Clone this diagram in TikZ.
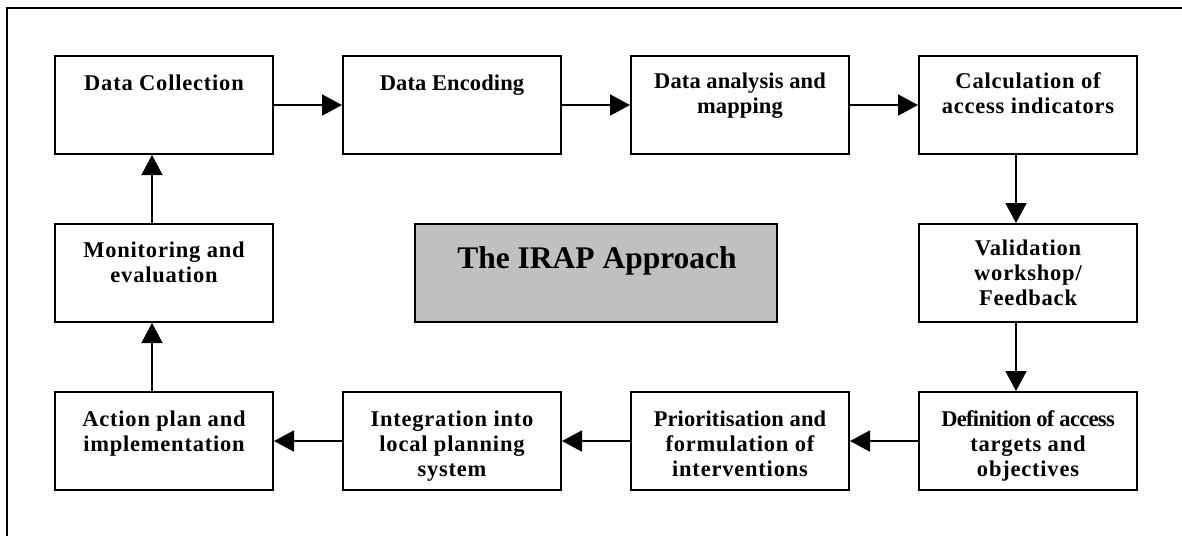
\documentclass[tikz,border=0pt]{standalone}
\usepackage{fontspec}
\setmainfont{Liberation Serif}
\newfontfamily\wsp[LetterSpace=3.5]{Liberation Serif}
\newfontfamily\msp[LetterSpace=0.5]{Liberation Serif}
\newfontfamily\tsp[LetterSpace=-3.0]{Liberation Serif}
\newfontfamily\nsp{Liberation Serif}
\usetikzlibrary{arrows.meta}
\definecolor{irapgray}{RGB}{192,192,192}
\tikzset{
  stepbox/.style={draw=black, line width=2pt, minimum width=218pt, minimum height=98pt, inner sep=0pt},
  titlebox/.style={draw=black, line width=2pt, fill=irapgray, minimum width=362pt, minimum height=98pt, inner sep=0pt},
  boxtext/.style={anchor=north, inner sep=0pt, align=center, font=\fontsize{22.5}{25}\selectfont\bfseries\wsp, execute at begin node=\strut},
  titletext/.style={anchor=base, inner sep=0pt, font=\fontsize{31.5}{36}\selectfont\bfseries\nsp},
  arr/.style={line width=1.8pt, -{Triangle[length=20pt, width=21pt]}},
  frame/.style={line width=2pt}
}
\begin{document}
\begin{tikzpicture}[x=1pt, y=-1pt]
\useasboundingbox (0,0) rectangle (1182,536);
\draw[frame] (7,536) -- (7,8) -- (1182,8);

% boxes
\node[stepbox] (dc)  at (164,105) {};
\node[stepbox] (de)  at (452,105) {};
\node[stepbox] (da)  at (740,105) {};
\node[stepbox] (ca)  at (1028,105) {};
\node[stepbox] (mon) at (164,273) {};
\node[titlebox] (irap) at (596,273) {};
\node[stepbox] (val) at (1028,273) {};
\node[stepbox] (act) at (164,441) {};
\node[stepbox] (int) at (452,441) {};
\node[stepbox] (pri) at (740,441) {};
\node[stepbox] (def) at (1028,441) {};

% texts
\node[boxtext] (dct) at (164,73) {Data Collection};
\node[boxtext, font=\fontsize{22.5}{25}\selectfont\bfseries\msp] (det) at (452,73) {Data Encoding};
\node[boxtext, font=\fontsize{22.5}{25}\selectfont\bfseries\msp] (dat) at (740,73) {Data analysis and\\mapping};
\node[boxtext] (cat) at (1028,72) {Calculation of\\access indicators};
\node[boxtext] (mont) at (164,242) {Monitoring and\\evaluation};
\node[titletext] (irapt) at (597,268) {The IRAP Approach};
\node[boxtext] (valt) at (1028,240) {Validation\\workshop/\\Feedback};
\node[boxtext] (actt) at (164,411) {Action plan and\\implementation};
\node[boxtext] (intt) at (452,411) {Integration into\\local planning\\system};
\node[boxtext] (prit) at (740,411) {{\msp Prioritisation and}\\formulation of\\interventions};
\node[boxtext] (deft) at (1028,410) {{\tsp Definition of access}\\targets and\\objectives};

% connectors
\draw[arr] (dc.east) -- (de.west);
\draw[arr] (de.east) -- (da.west);
\draw[arr] (da.east) -- (ca.west);
\draw[arr] ([xshift=-12pt]ca.south) -- ([xshift=-12pt]val.north);
\draw[arr] ([xshift=-12pt]val.south) -- ([xshift=-12pt]def.north);
\draw[arr] (def.west) -- (pri.east);
\draw[arr] (pri.west) -- (int.east);
\draw[arr] (int.west) -- (act.east);
\draw[arr] ([xshift=-12pt]act.north) -- ([xshift=-12pt]mon.south);
\draw[arr] ([xshift=-12pt]mon.north) -- ([xshift=-12pt]dc.south);
\end{tikzpicture}
\end{document}
